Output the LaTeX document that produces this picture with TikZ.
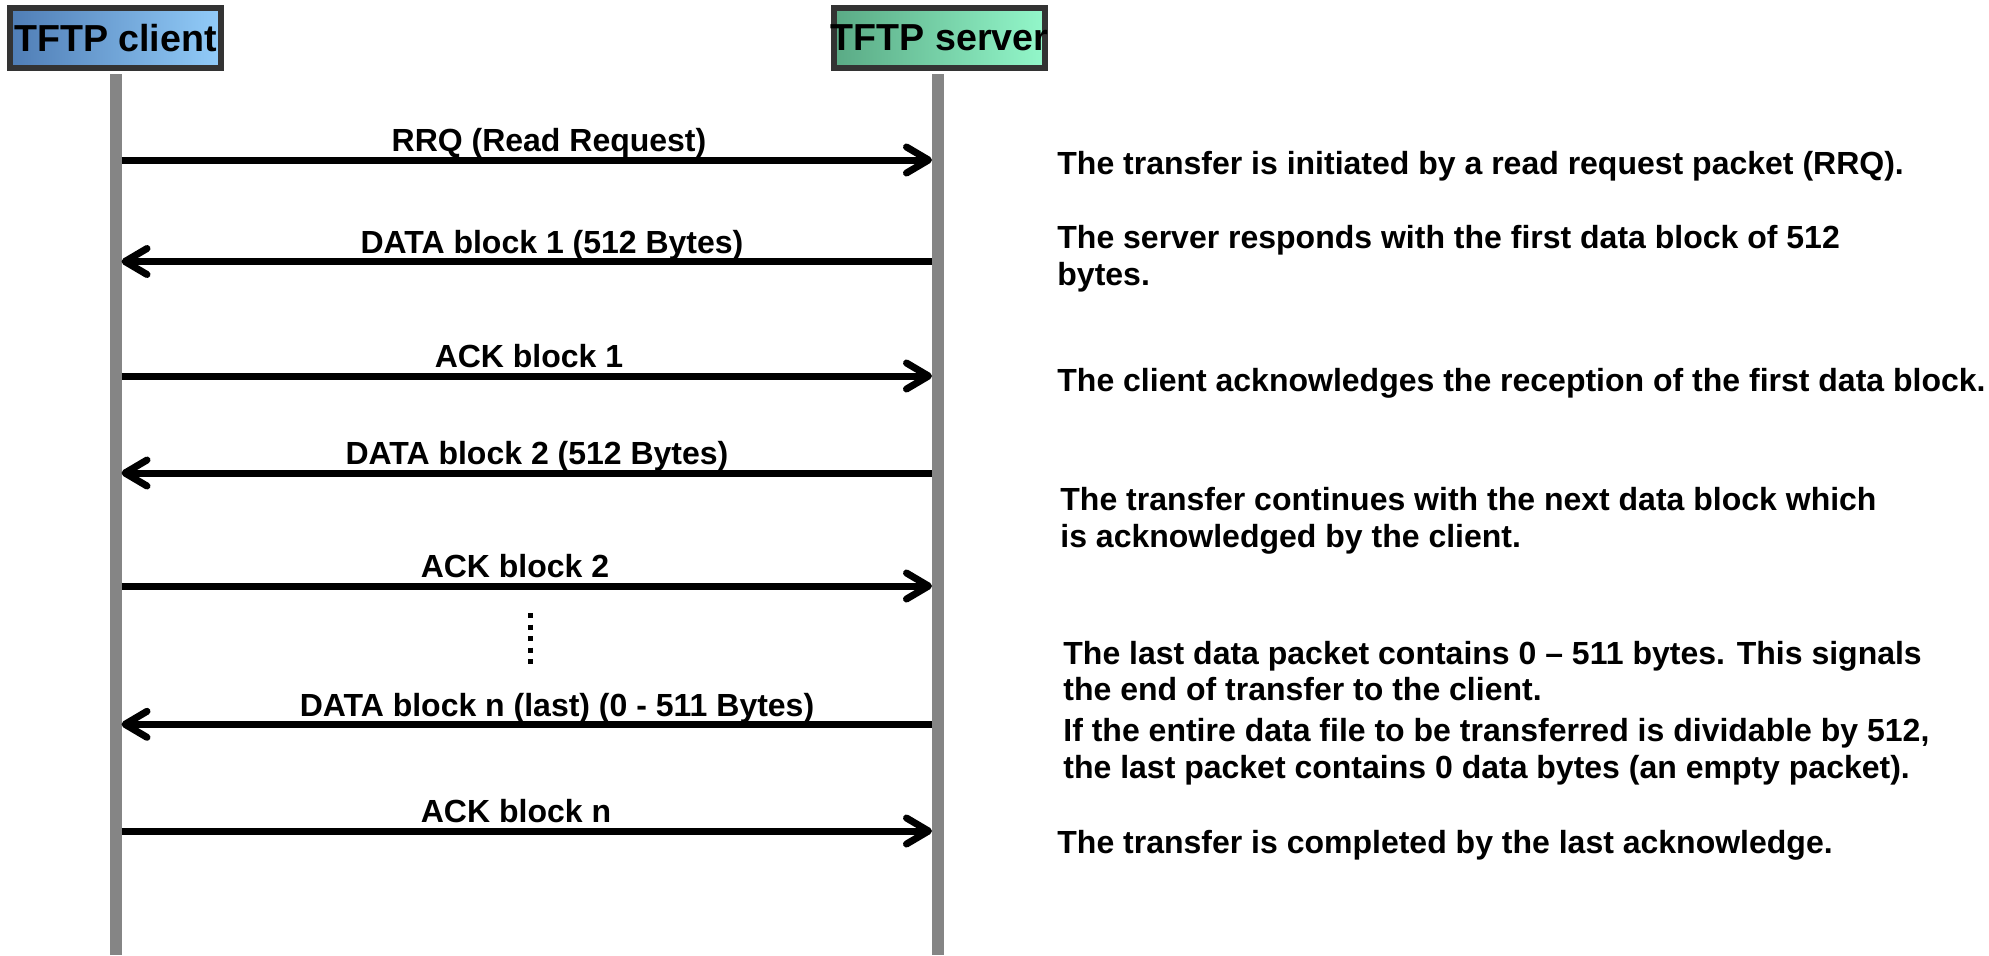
\documentclass[tikz,border=0pt]{standalone}
\usepackage{fontspec}
\setmainfont{Liberation Sans}
\usetikzlibrary{arrows.meta}
\definecolor{lifegray}{HTML}{858585}
\definecolor{boxedge}{HTML}{333333}
\definecolor{cliA}{HTML}{4F7DB5}
\definecolor{cliB}{HTML}{92CCF9}
\definecolor{srvA}{HTML}{5AAA85}
\definecolor{srvB}{HTML}{93F7CA}
\begin{document}
\begin{tikzpicture}[x=0.5pt,y=-0.5pt,
  hdr/.style={draw=boxedge, line width=3pt, minimum width=105.5pt, minimum height=30pt, inner sep=0pt,
    font=\fontsize{18.8}{22}\selectfont\bfseries},
  msg/.style={line width=3.5pt, -{Straight Barb[length=11pt,width=13pt,round]}},
  lbl/.style={font=\fontsize{16}{19}\selectfont\bfseries, inner sep=0pt, anchor=base},
  note/.style={font=\fontsize{16}{18.4}\selectfont\bfseries, align=left, inner sep=0pt, anchor=west},
  life/.style={draw=lifegray, line width=6pt},
  dots/.style={line width=2.5pt, dash pattern=on 2.5pt off 3.25pt}]
\useasboundingbox (0,0) rectangle (1989,955);
% headers
\node[hdr, left color=cliA, right color=cliB] (client) at (115.5,38) {\makebox[0pt]{TFTP client}};
\node[hdr, left color=srvA, right color=srvB] (server) at (939.5,38) {\makebox[0pt]{TFTP server}};
% lifelines
\coordinate (cend) at (115.5,955);
\coordinate (send) at (938,955);
\draw[life, shorten <=1.5pt] (client.south -| cend) -- (cend);
\draw[life, shorten <=1.5pt] (server.south -| send) -- (send);
% message end points
\foreach \i/\y in {1/160,2/261.5,3/376,4/473,5/586,6/724.3,7/831}{
  \coordinate (c\i) at (121.5,\y);
  \coordinate (s\i) at (932,\y);
}
\draw[msg] (c1) -- (s1);
\draw[msg] (s2) -- (c2);
\draw[msg] (c3) -- (s3);
\draw[msg] (s4) -- (c4);
\draw[msg] (c5) -- (s5);
\draw[msg] (s6) -- (c6);
\draw[msg] (c7) -- (s7);
% labels
\node[lbl] (l1) at (549,151.5) {RRQ (Read Request)};
\node[lbl] (l2) at (552,253) {DATA block 1 (512 Bytes)};
\node[lbl] (l3) at (529,367.5) {ACK block 1};
\node[lbl] (l4) at (537,464.5) {DATA block 2 (512 Bytes)};
\node[lbl] (l5) at (515,577.5) {ACK block 2};
\node[lbl] (l6) at (557,716) {DATA block n (last) (0 - 511 Bytes)};
\node[lbl] (l7) at (516,822.5) {ACK block n};
% continuation dots
\coordinate (d1) at (530,613);
\coordinate (d2) at (530,667);
\draw[dots] (d1) -- (d2);
% notes
\node[note] (n1) at (1057,166) {The transfer is initiated by a read request packet (RRQ).};
\node[note] (n2) at (1057,259) {The server responds with the first data block of 512\\bytes.};
\node[note] (n3) at (1057,383) {The client acknowledges the reception of the first data block.};
\node[note] (n4) at (1060,521) {The transfer continues with the next data block which\\is acknowledged by the client.};
\node[note] (n5) at (1063,671) {The last data packet contains 0 -- 511 bytes. This signals\\the end of transfer to the client.};
\node[note] (n6) at (1063,752) {If the entire data file to be transferred is dividable by 512,\\the last packet contains 0 data bytes (an empty packet).};
\node[note] (n7) at (1057,845) {The transfer is completed by the last acknowledge.};
\end{tikzpicture}
\end{document}
